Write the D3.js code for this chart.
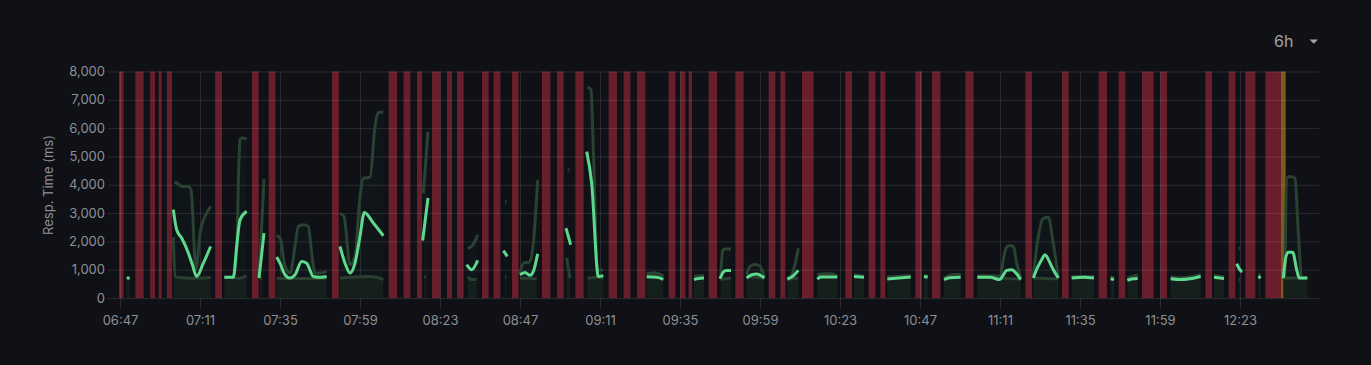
<!DOCTYPE html>
<html>
<head>
<meta charset="utf-8">
<script src="https://cdn.jsdelivr.net/npm/d3@7"></script>
<style>
  body { margin: 0; background: #0f1117; }
  svg { display: block; font-family: Inter, "Noto Sans", sans-serif; }
</style>
</head>
<body>
<svg id="chart" width="1371" height="365"></svg>
<script>
// time values are minutes after 06:47
const startClock = "06:47";
const rangeLabel = "6h";
const yLabel = "Resp. Time (ms)";
const tickMinutes = d3.range(0, 337, 24);
const yTicks = d3.range(0, 8001, 1000);

// alert state ranges [from, to]
const alertBands = [
  [-0.3, 1.05], [4.6, 7.1], [9.05, 10.5], [11.6, 12.5], [14.1, 15.6], [28.55, 30.6],
  [39.6, 41.6], [44.6, 46.6], [63.6, 65.65], [80.6, 83.1], [85.1, 87.1], [89.1, 90.6],
  [93.6, 96.1], [98.1, 99.6], [101.1, 103.1], [108.6, 110.6], [112.1, 114.1], [117.6, 119.6],
  [126.6, 129.1], [131.1, 133.1], [136.6, 139.1], [146.6, 149.1], [151.1, 153.1], [155.1, 157.6],
  [164.6, 166.6], [168.1, 169.6], [170.6, 171.6], [176.6, 179.1], [184.6, 187.1], [194.6, 196.6],
  [198.1, 199.6], [204.6, 208.1], [217.6, 219.6], [224.6, 226.6], [228.1, 229.6], [238.6, 240.6],
  [243.6, 246.1], [253.6, 256.1], [271.6, 273.6], [282.6, 284.6], [293.6, 296.1], [299.6, 301.6],
  [306.6, 310.1], [312.1, 314.1], [325.6, 327.6], [332.6, 334.6], [337.6, 340.6], [343.6, 348.3]
];
const pendingBands = [[348.3, 349.7]];

// mean response time, null = gap
const meanSeries = [
  [2.0,720],[2.9,700], null,
  [16.0,3120],[17.0,2410],[18.5,2120],[20.5,1590],[21.7,1180],[23.0,760],[25.0,1230],[27.2,1820], null,
  [31.3,730],[34.0,730],[35.0,1820],[36.0,2760],[38.0,3060], null,
  [41.7,705],[43.2,2290], null,
  [47.0,1450],[48.0,1230],[49.5,820],[51.0,705],[52.5,820],[54.5,1290],[56.0,1230],[58.0,760],[60.0,730],[62.0,760], null,
  [66.0,1820],[67.5,1230],[69.0,880],[70.5,1230],[72.0,2180],[73.3,3020],[76.0,2650],[79.0,2200], null,
  [90.8,2030],[92.4,3530], null,
  [104.0,1180],[105.5,1000],[107.3,1330], null,
  [115.0,1670],[116.2,1470], null,
  [120.0,820],[121.5,905],[123.0,800],[124.0,940],[125.3,1560], null,
  [133.8,2470],[135.2,1880], null,
  [140.0,5170],[141.5,4060],[143.5,760],[145.0,790], null,
  [158.0,750],[161.0,730],[163.0,660], null,
  [172.2,650],[173.5,690],[175.2,705], null,
  [180.0,680],[181.2,940],[182.0,975],[183.3,975], null,
  [188.0,705],[189.5,820],[191.0,850],[193.3,705], null,
  [200.2,670],[201.5,740],[203.5,975], null,
  [209.2,670],[210.2,740],[213.0,740],[215.2,740], null,
  [220.2,760],[223.2,730], null,
  [230.2,670],[233.7,705],[237.2,740], null,
  [241.2,760],[242.3,730], null,
  [247.2,650],[249.0,715],[252.2,730], null,
  [257.2,730],[261.0,730],[264.0,650],[265.0,820],[266.0,975],[267.5,1000],[268.8,880],[270.2,650], null,
  [274.0,705],[275.2,1060],[276.5,1350],[277.5,1530],[278.8,1290],[280.0,1000],[281.5,705], null,
  [285.5,705],[289.0,730],[292.2,705], null,
  [297.2,680],[298.2,650], null,
  [302.2,620],[303.5,670],[305.3,690], null,
  [315.2,680],[318.0,650],[321.0,680],[324.2,760], null,
  [328.2,730],[331.2,690], null,
  [335.0,1210],[336.2,965],[336.7,930], null,
  [341.5,705],[342.2,760], null,
  [349.0,705],[349.8,1470],[350.5,1620],[351.8,1620],[353.0,1000],[353.8,705],[356.2,705]
];

// upper percentile
const upperSeries = [
  [16.3,4100],[17.5,4030],[18.5,3940],[20.5,3940],[21.3,3820],[22.8,1000],[24.0,2290],[25.5,2880],[27.2,3230], null,
  [31.3,730],[34.0,740],[35.0,1600],[35.6,4500],[36.0,5600],[36.6,5650],[38.0,5620], null,
  [41.7,720],[43.2,4200], null,
  [47.0,2200],[48.0,2120],[49.5,1120],[51.0,880],[52.5,1820],[53.5,2530],[55.0,2590],[56.5,2530],[57.5,1590],[58.5,880],[60.0,880],[62.0,940], null,
  [66.0,2980],[67.2,2880],[69.0,1180],[70.5,1470],[72.0,3590],[73.0,4230],[75.0,4270],[76.5,6060],[77.5,6550],[79.0,6570], null,
  [91.0,3700],[92.4,5880], null,
  [104.3,1760],[105.5,1820],[107.3,2230], null,
  [115.5,3400],[115.9,3400], null,
  [120.0,880],[121.0,1230],[122.8,1270],[124.0,1940],[125.3,4170], null,
  [134.3,4530],[134.8,4530], null,
  [140.2,7440],[141.3,7370],[142.0,5230],[143.3,980],[145.0,1000], null,
  [158.0,860],[160.5,880],[163.0,760], null,
  [172.2,760],[175.2,790], null,
  [180.2,760],[180.8,1680],[181.3,1730],[183.3,1730], null,
  [188.0,820],[189.0,1120],[190.5,1180],[192.0,1120],[193.3,760], null,
  [200.2,705],[201.5,820],[203.5,1760], null,
  [209.2,820],[213.5,860],[215.2,760], null,
  [220.2,820],[223.2,760], null,
  [230.2,740],[237.2,790], null,
  [241.2,790],[242.3,790], null,
  [247.2,705],[250.0,820],[252.2,820], null,
  [257.2,790],[261.0,790],[264.0,760],[265.0,1350],[265.8,1760],[266.8,1850],[268.0,1820],[269.0,1230],[270.2,705], null,
  [274.0,760],[275.2,1940],[276.8,2790],[278.5,2860],[279.8,2060],[281.5,705], null,
  [285.5,760],[292.2,760], null,
  [297.2,740],[298.2,705], null,
  [302.2,705],[305.3,820], null,
  [315.2,740],[318.0,705],[324.2,820], null,
  [328.2,790],[331.2,740], null,
  [335.6,1760],[336.0,1760], null,
  [341.5,820],[342.2,820], null,
  [349.5,760],[350.0,4230],[351.0,4290],[352.5,4230],[353.5,2290],[354.5,705],[356.2,705]
];

// median, drawn filled
const lowerSeries = [
  [2.0,700],[2.9,690], null,
  [16.0,2150],[16.5,750],[18.0,720],[21.0,700],[24.0,700],[27.2,720], null,
  [31.3,720],[34.0,720],[36.0,700],[38.0,780], null,
  [42.0,700],[42.6,700], null,
  [47.0,700],[51.0,680],[56.0,690],[62.0,700], null,
  [66.0,700],[69.0,730],[75.0,760],[77.0,730],[79.0,650], null,
  [91.3,760],[91.8,740], null,
  [104.3,760],[105.5,650],[107.0,650], null,
  [115.5,760],[115.9,760], null,
  [120.0,700],[123.0,700],[125.0,670], null,
  [134.0,1410],[135.0,700], null,
  [140.2,700],[143.0,730],[145.0,700], null,
  [158.0,860],[160.5,880],[163.0,770], null,
  [172.2,760],[175.2,790], null,
  [180.2,650],[183.3,705], null,
  [188.0,760],[193.3,705], null,
  [200.2,650],[203.5,705], null,
  [209.2,820],[211.0,860],[215.2,760], null,
  [220.2,820],[223.2,760], null,
  [230.2,740],[237.2,790], null,
  [241.2,790],[242.3,790], null,
  [247.2,705],[250.5,820],[252.2,820], null,
  [257.2,760],[264.0,705],[270.2,670], null,
  [274.0,705],[281.5,670], null,
  [285.5,760],[292.2,760], null,
  [297.2,740],[298.2,705], null,
  [302.2,705],[305.3,760], null,
  [315.2,740],[318.5,705],[324.2,820], null,
  [328.2,790],[331.2,740], null,
  [335.6,650],[336.0,650], null,
  [341.5,820],[342.2,820], null,
  [349.0,705],[356.2,705]
];

const svg = d3.select("#chart");
const margin = {top: 71.5, left: 119, right: 52, bottom: 67};
const width = 1371 - margin.left - margin.right;
const height = 365 - margin.top - margin.bottom;

const start = d3.timeParse("%H:%M")(startClock);
const at = m => d3.timeSecond.offset(start, Math.round(m * 60));

const x = d3.scaleTime().domain([at(-0.3), at(359.7)]).range([0, width]);
const y = d3.scaleLinear().domain([0, 8000]).range([height, 0]);

const g = svg.append("g").attr("transform", "translate(" + margin.left + "," + margin.top + ")");

// state bands
g.selectAll("rect.alert").data(alertBands).enter().append("rect")
  .attr("class", "alert")
  .attr("x", d => x(at(d[0]))).attr("width", d => x(at(d[1])) - x(at(d[0])))
  .attr("y", 0).attr("height", height)
  .attr("fill", "#681e2b");
g.selectAll("rect.pending").data(pendingBands).enter().append("rect")
  .attr("class", "pending")
  .attr("x", d => x(at(d[0]))).attr("width", d => x(at(d[1])) - x(at(d[0])))
  .attr("y", 0).attr("height", height)
  .attr("fill", "#7b5b1b");

// grid + axes
const gridColor = "rgba(255,255,255,0.11)";
const textColor = "#8e8f94";

const yAxis = g.append("g")
  .call(d3.axisLeft(y).tickValues(yTicks).tickSize(-width - 11).tickPadding(3).tickFormat(d3.format(",")))
  .attr("transform", "translate(-11,0)");
const xAxis = g.append("g").attr("transform", "translate(0," + height + ")")
  .call(d3.axisBottom(x).tickValues(tickMinutes.map(at)).tickSize(-height - 10).tickPadding(6).tickFormat(d3.timeFormat("%H:%M")));
xAxis.selectAll(".tick line").attr("transform", "translate(0,10)");
[yAxis, xAxis].forEach(a => {
  a.select(".domain").remove();
  a.selectAll(".tick line").attr("stroke", gridColor);
  a.selectAll("text").attr("fill", textColor).style("font-size", "13px").style("font-family", "Inter, sans-serif");
});
xAxis.selectAll("text").attr("dy", "1.6em");

svg.append("text")
  .attr("transform", "translate(53,185) rotate(-90)")
  .attr("text-anchor", "middle")
  .attr("fill", textColor).style("font-size", "13px")
  .text(yLabel);

// series
const px = d => x(at(d[0]));
const curve = d3.curveMonotoneX;
const line = d3.line().defined(d => d !== null).x(px).y(d => y(d[1])).curve(curve);
const area = d3.area().defined(d => d !== null).x(px).y0(height).y1(d => y(d[1])).curve(curve);

g.append("path").datum(upperSeries).attr("d", area).attr("fill", "rgba(94,216,140,0.025)");
g.append("path").datum(lowerSeries).attr("d", area).attr("fill", "#151f1b");
g.append("path").datum(lowerSeries).attr("d", line)
  .attr("fill", "none").attr("stroke", "#293f30").attr("stroke-width", 3);
g.append("path").datum(upperSeries).attr("d", line)
  .attr("fill", "none").attr("stroke", "#2a4231").attr("stroke-width", 3);
g.append("path").datum(meanSeries).attr("d", line)
  .attr("fill", "none").attr("stroke", "#5dd88c").attr("stroke-width", 3)
  .attr("stroke-linejoin", "round").attr("stroke-linecap", "butt");

// time range picker
svg.append("text").attr("x", 1274).attr("y", 47)
  .attr("fill", "#a3a4a9").style("font-size", "16px").text(rangeLabel);
svg.append("path").attr("d", "M1309.5,39.5 L1318,39.5 L1313.75,43.8 Z").attr("fill", "#a3a4a9");
</script>
</body>
</html>
